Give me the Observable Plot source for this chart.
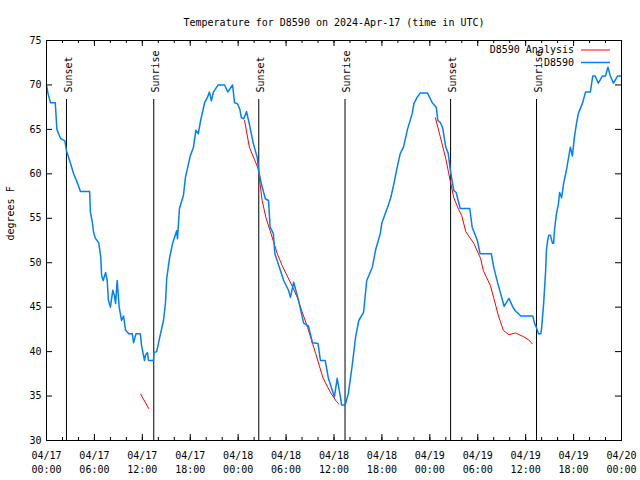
<!DOCTYPE html>
<html><head><meta charset="utf-8">
<script src="https://cdn.jsdelivr.net/npm/d3@7"></script>
<script src="https://cdn.jsdelivr.net/npm/@observablehq/plot@0.6"></script>
<style>body{margin:0;background:#fff} #chart{width:640px;height:480px}</style>
</head><body><div id="chart"></div>
<script>
const title = "Temperature for D8590 on 2024-Apr-17 (time in UTC)";
const yLabel = "degrees F";
const startUTC = Date.UTC(2024, 3, 17);

// observed temperature (hours since 04/17 00:00 UTC, degrees F)
const obsHours = [0,0.2,0.5,1.1,1.3,1.75,2.3,2.5,3.0,3.4,3.9,4.25,5.4,5.5,5.75,5.9,6.1,6.55,6.8,6.9,7.1,7.4,7.6,7.75,8.0,8.3,8.5,8.65,8.85,9.1,9.4,9.65,9.9,10.3,10.75,10.9,11.2,11.75,11.9,12.27,12.4,12.65,12.77,13.4,13.45,13.8,14.27,14.65,14.9,15.05,15.4,15.8,16.3,16.4,16.65,17.15,17.4,17.8,18.0,18.4,18.7,19.0,19.3,19.8,20.15,20.4,20.65,20.9,21.5,22.3,22.7,23.0,23.3,23.55,23.9,24.2,24.4,24.7,25.05,25.4,25.9,26.4,26.55,26.9,27.4,27.8,28.0,28.4,28.6,29.3,29.7,30.3,30.55,30.95,31.55,32.2,32.8,33.3,34.0,34.3,34.9,35.3,35.8,36.05,36.4,36.8,36.95,37.4,37.8,38.3,38.7,39.1,39.7,40.1,40.8,41.2,41.8,42.0,42.7,43.1,43.5,43.9,44.3,44.7,45.2,45.8,46.0,46.4,46.8,47.7,48.3,48.8,49.0,49.3,49.6,50.0,50.3,50.6,51.0,51.3,51.8,53.0,53.3,53.7,53.95,54.3,55.7,56.0,56.5,57.0,57.3,57.9,58.4,58.7,59.4,60.9,61.1,61.35,61.6,61.9,62.0,62.25,62.5,62.6,62.75,62.9,63.1,63.35,63.5,63.6,63.85,64.1,64.25,64.5,64.75,65.1,65.35,65.6,65.85,66.1,66.35,66.6,67.1,67.5,68.1,68.4,68.7,69.1,69.6,70.0,70.3,70.6,71.0,71.5,72];
const obsTemps = [70,69,68,68,65,64,63.7,62.6,61.2,60,58.9,58,58,55.7,54.5,53.4,52.8,52.2,50.6,48.6,48,48.9,48,45.8,45,46.9,46.3,45.4,48,45,43.5,44,42.4,42,42,41,42,42,40.7,39,39.6,39.9,39,39,39.9,40,42,43.5,45.5,48.2,50.5,52.2,53.6,52.7,56.1,57.6,59.6,61.2,62,63,64.9,64.5,66,68,68.6,69.2,68.2,69.2,70,70,69.2,69.6,70,68,67.9,67.3,66.3,66.2,67,65.6,63.4,61.8,60.4,58.9,57.2,57,54,53.3,51,49.1,48,46.9,46.1,47.8,45.8,43.2,42.9,41,40.9,39,39,37,35.6,34.9,37,34.9,34,34,35.3,38.6,41.6,43.5,44.4,48,49.5,51.4,53.3,54.5,56.2,57.3,58.9,60.7,62.3,63,65,66.8,67.9,68.6,69.1,69.1,68,67.5,66,65.8,65.2,63,62.3,60.2,58.1,57.9,56.1,56.1,54,53.1,52.5,51,51,49.5,47.7,46.1,45.1,46,45,44.6,44,44,43.2,42.7,42,42,42.7,45.4,49.1,51.4,52.5,53.1,53.1,52.2,52.2,53.6,55.5,56.6,57.9,57.3,58.9,60.4,61.7,63,62,64.1,65.6,66.8,67.9,69.2,69.2,71,71,70.2,71,71,72,71,70.2,71,71];

// analysis temperature (null = gap between runs)
const anaHours = [11.8,12.8,12.9,24.8,25.4,26.5,27.0,27.5,28.0,28.9,29.5,30.2,30.8,31.4,32.0,32.7,33.7,34.6,35.2,35.7,36.3,36.6,36.7,48.7,49.3,50.0,50.6,51.0,51.6,52.0,52.5,53.1,53.5,54.1,54.35,54.7,55.6,56.6,57.2,57.9,58.7,59.7,60.4,60.8];
const anaTemps = [35.2,33.6,null,66,63,60.6,57,55,53.6,51,49.7,48.4,47.3,46.1,44.5,42.7,39.8,37.1,36,35.2,34.4,34.1,null,66.3,64.2,61.7,59,57.3,56,55.3,53.5,52.7,52.2,51,50.5,49.1,47.4,44,42.4,41.9,42.1,41.7,41.3,40.9];

const eventHours = [2.5,13.43,26.58,37.38,50.6,61.36];
const eventLabels = ["Sunset","Sunrise","Sunset","Sunrise","Sunset","Sunrise"];

const xTickHours = [0,6,12,18,24,30,36,42,48,54,60,66,72];
const xTickLabels = ["04/17\n00:00","04/17\n06:00","04/17\n12:00","04/17\n18:00","04/18\n00:00","04/18\n06:00","04/18\n12:00","04/18\n18:00","04/19\n00:00","04/19\n06:00","04/19\n12:00","04/19\n18:00","04/20\n00:00"];
const yTicks = [30,35,40,45,50,55,60,65,70,75];

const legendLabels = ["D8590 Analysis","D8590"];
const legendColors = ["#ff0000","#0080ff"];

const toDate = h => new Date(startUTC + h * 3600e3);
const obs = obsHours.map((h, i) => ({t: toDate(h), v: obsTemps[i]}));
const ana = anaHours.map((h, i) => ({t: toDate(h), v: anaTemps[i]}));
const events = eventHours.map((h, i) => ({t: toDate(h), label: eventLabels[i]}));
const xTicks = xTickHours.map((h, i) => ({t: toDate(h), label: xTickLabels[i]}));
const minorTicks = d3.range(0, 73, 2).map(toDate);
const font = "'DejaVu Sans Mono', monospace";

const plot = Plot.plot({
  width: 640, height: 480,
  marginLeft: 46, marginRight: 19, marginTop: 40, marginBottom: 40,
  style: {fontFamily: font, fontSize: "10px", background: "#fff", color: "#000"},
  x: {type: "utc", domain: [toDate(0), toDate(72)], axis: null},
  y: {domain: [30, 75], axis: null},
  marks: [
    Plot.ruleX(minorTicks, {insetTop: 397, stroke: "#000"}),
    Plot.ruleX(minorTicks, {insetBottom: 397, stroke: "#000"}),
    Plot.ruleX(xTicks, {x: "t", insetTop: 394, stroke: "#000"}),
    Plot.ruleX(xTicks, {x: "t", insetBottom: 394, stroke: "#000"}),
    Plot.ruleY(yTicks, {insetRight: 569, stroke: "#000"}),
    Plot.ruleY(yTicks, {insetLeft: 569, stroke: "#000"}),
    Plot.text(xTicks, {x: "t", text: "label", frameAnchor: "bottom", lineAnchor: "top", dy: 9, lineHeight: 1.4}),
    Plot.text(yTicks, {y: d => d, text: d => String(d), frameAnchor: "left", textAnchor: "end", dx: -5}),
    Plot.text([yLabel], {frameAnchor: "left", rotate: -90, dx: -36}),
    Plot.text([title], {frameAnchor: "top", dy: -22}),
    Plot.ruleX(events, {x: "t", insetTop: 59, stroke: "#000"}),
    Plot.text(events, {x: "t", text: "label", frameAnchor: "top", rotate: -90, textAnchor: "start", dy: 52, dx: -2}),
    Plot.line(ana, {x: "t", y: "v", stroke: legendColors[0], strokeWidth: 1}),
    Plot.line(obs, {x: "t", y: "v", stroke: legendColors[1], strokeWidth: 1.5}),
    Plot.frame({stroke: "#000"})
  ]
});

// legend (top right, inside frame)
const svg = d3.select(plot);
const lg = svg.append("g").attr("font-family", font).attr("font-size", 10);
legendLabels.forEach((lab, i) => {
  const y = 50 + i * 12.5;
  lg.append("text").attr("x", 574).attr("y", y).attr("dy", "0.32em").attr("text-anchor", "end").attr("fill", "#000").text(lab);
  lg.append("line").attr("x1", 581).attr("x2", 610).attr("y1", y).attr("y2", y).attr("stroke", legendColors[i]).attr("stroke-width", i === 0 ? 1 : 1.5);
});

document.getElementById("chart").appendChild(plot);
</script>
</body></html>
